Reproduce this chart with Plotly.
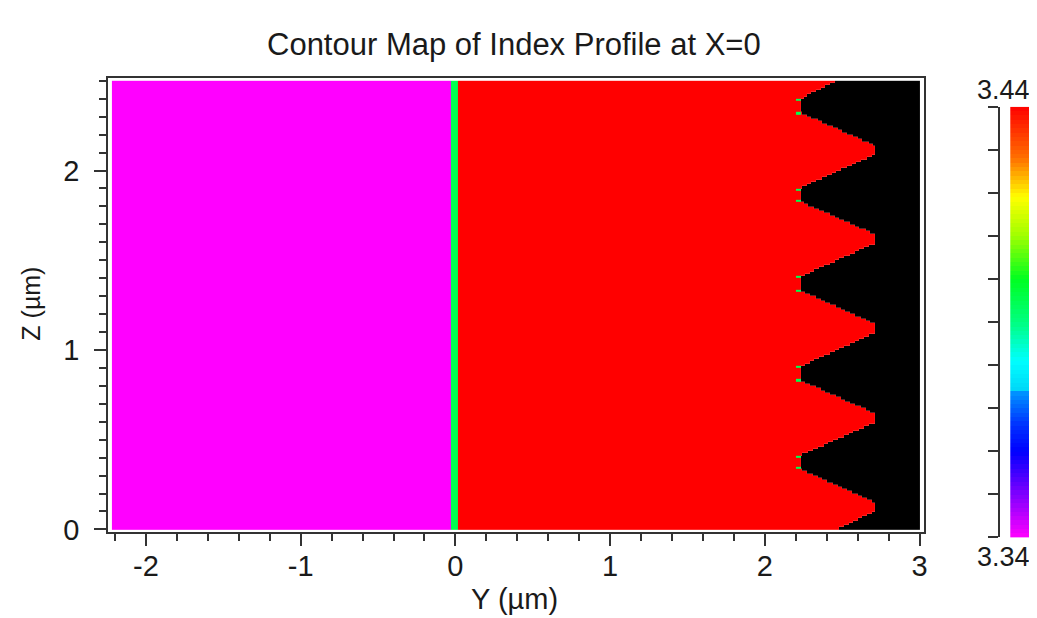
import numpy as np
import plotly.graph_objects as go

# ---------------- data ----------------
# horizontal layers (Y in µm) and their refractive index
layer_edges_y = [-2.22, -0.03, 0.015, 2.20]      # magenta | green interface | red core
layer_index = [3.34, 3.39, 3.44]
core_index = 3.44
interface_index = 3.395
air_index = 1.0

# grating teeth on the right side of the core (Z in µm)
peak_z = [0.125, 0.62, 1.12, 1.62, 2.115]
trough_z = [0.375, 0.87, 1.37, 1.865, 2.36]
peak_y = 2.71
trough_y = 2.22
peak_flat = 0.05
trough_flat = 0.07
edge_y = 2.46          # boundary at z = 0 and z = 2.5
y_end = 3.0
z_start, z_end = 0.0, 2.5
z_step = 0.0125
tooth_col_step = 0.01

x_tick_vals = [-2, -1, 0, 1, 2, 3]
x_tick_text = ["-2", "-1", "0", "1", "2", "3"]
y_tick_vals = [0, 1, 2]
y_tick_text = ["0", "1", "2"]

cbar_min, cbar_max = 3.34, 3.44
cbar_ticks = [3.34, 3.35, 3.36, 3.37, 3.38, 3.39, 3.40, 3.41, 3.42, 3.43, 3.44]

colorscale = [
    [0.00, "#ff00ff"], [0.10, "#8000ff"], [0.20, "#0000ff"], [0.26, "#0030ff"],
    [0.335, "#0090ff"], [0.345, "#00d8f8"], [0.41, "#00ffff"], [0.50, "#00ff80"],
    [0.60, "#00ff20"], [0.70, "#a0ff00"], [0.79, "#ffff00"], [0.88, "#ff7000"],
    [1.00, "#ff0000"],
]

# ---------------- build grid ----------------
vz, vy = [z_start], [edge_y]
for pz, tz in zip(peak_z, trough_z):
    vz += [pz - peak_flat / 2, pz + peak_flat / 2, tz - trough_flat / 2, tz + trough_flat / 2]
    vy += [peak_y, peak_y, trough_y, trough_y]
vz.append(z_end)
vy.append(edge_y)

z_edges = np.arange(z_start, z_end + z_step / 2, z_step)
z_cent = (z_edges[:-1] + z_edges[1:]) / 2
tooth_edges = np.round(np.arange(trough_y, peak_y + 0.011, tooth_col_step), 4)
x_edges = np.array(list(layer_edges_y) + list(tooth_edges[1:]) + [y_end])
x_cent = (x_edges[:-1] + x_edges[1:]) / 2

boundary = np.interp(z_cent, vz, vy)
n_rows, n_cols = len(z_cent), len(x_cent)
index = np.full((n_rows, n_cols), np.nan)
air = np.full((n_rows, n_cols), np.nan)
for j, xc in enumerate(x_cent):
    if xc < layer_edges_y[1]:
        index[:, j] = layer_index[0]
    elif xc < layer_edges_y[2]:
        index[:, j] = interface_index
    elif xc < layer_edges_y[3]:
        index[:, j] = layer_index[2]
    else:
        inside = xc < boundary
        index[inside, j] = core_index
        air[~inside, j] = air_index

# green dots at the trough corners
for tz in trough_z:
    for zc in (tz - trough_flat / 2, tz + trough_flat / 2):
        i = int(np.argmin(np.abs(z_cent - zc)))
        j = int(np.searchsorted(x_edges, trough_y + 0.005)) - 1
        index[i, j] = interface_index

# ---------------- figure ----------------
# page placement: the figure sits 8 px into the page and is shown slightly
# compressed; target positions below are page pixels
OFF_X, OFF_Y, SX, SY = 8.0, 8.2, 0.994, 0.978
W, H = 1037, 618

def px_x(p):
    return ((p - OFF_X) / SX) / W

def px_y(p):
    return 1 - ((p - OFF_Y) / SY) / H

fig = go.Figure()
fig.add_trace(go.Heatmap(
    x=x_edges, y=z_edges, z=air, colorscale=[[0, "#000000"], [1, "#000000"]],
    showscale=False, hoverinfo="skip", xaxis="x", yaxis="y"))
fig.add_trace(go.Heatmap(
    x=x_edges, y=z_edges, z=index, colorscale=colorscale, zmin=cbar_min, zmax=cbar_max,
    showscale=False, xaxis="x", yaxis="y"))

# colour bar drawn as its own small axis
cb_edges = np.linspace(cbar_min, cbar_max, 101)
cb_vals = ((cb_edges[:-1] + cb_edges[1:]) / 2).reshape(-1, 1)
fig.add_trace(go.Heatmap(
    x=[0, 1], y=cb_edges, z=cb_vals, colorscale=colorscale, zmin=cbar_min, zmax=cbar_max,
    showscale=False, hoverinfo="skip", xaxis="x2", yaxis="y2"))

font = "Liberation Sans, Arial, sans-serif"
ink = "#1a1a1a"
frame = "#333333"

fig.update_layout(
    width=W, height=H, margin=dict(l=0, r=0, t=0, b=0),
    paper_bgcolor="white", plot_bgcolor="white", showlegend=False,
    font=dict(family=font, color=ink, size=28),
    xaxis=dict(
        domain=[px_x(108), px_x(922)], range=[-2.244, 3.028], anchor="y",
        tickmode="array", tickvals=x_tick_vals, ticktext=x_tick_text,
        ticks="outside", ticklen=12, tickwidth=2,
        tickcolor=frame, showline=True, linecolor=frame, linewidth=2, mirror=True,
        showgrid=False, zeroline=False, ticklabelstandoff=-5,
        tickfont=dict(size=29, color=ink),
        minor=dict(ticks="outside", dtick=0.2, tick0=0, ticklen=7, tickwidth=1.5,
                   tickcolor=frame, showgrid=False),
    ),
    yaxis=dict(
        domain=[px_y(532.3), px_y(78)], range=[-0.013, 2.517], anchor="x",
        tickmode="array", tickvals=y_tick_vals, ticktext=y_tick_text,
        ticks="outside", ticklen=12, tickwidth=2,
        tickcolor=frame, showline=True, linecolor=frame, linewidth=2, mirror=True,
        showgrid=False, zeroline=False, ticklabelstandoff=9,
        tickfont=dict(size=29, color=ink),
        minor=dict(ticks="outside", dtick=0.1, tick0=0, ticklen=7, tickwidth=1.5,
                   tickcolor=frame, showgrid=False),
    ),
    xaxis2=dict(domain=[px_x(1008), 1.0], range=[0, 1], anchor="y2",
                showticklabels=False, ticks="", showline=False, showgrid=False,
                zeroline=False, fixedrange=True),
    yaxis2=dict(domain=[px_y(538), px_y(107)], range=[cbar_min, cbar_max],
                anchor="free", position=px_x(997), side="left",
                tickmode="array", tickvals=cbar_ticks, ticks="outside", ticklen=10,
                tickwidth=2, tickcolor=frame, showline=True, linecolor=frame,
                linewidth=2, showticklabels=False, showgrid=False, zeroline=False),
    annotations=[
        dict(text="Contour Map of Index Profile at X=0", x=px_x(513), y=px_y(45),
             xref="paper", yref="paper", xanchor="center", yanchor="middle",
             showarrow=False, font=dict(size=31, color=ink)),
        dict(text="Y (µm)", x=px_x(513), y=px_y(600), xref="paper", yref="paper",
             xanchor="center", yanchor="middle", showarrow=False,
             font=dict(size=29, color=ink)),
        dict(text="Z (µm)", x=px_x(31), y=px_y(304), xref="paper", yref="paper",
             xanchor="center", yanchor="middle", showarrow=False, textangle=-90,
             font=dict(size=25, color=ink)),
        dict(text=f"{cbar_max:.2f}", x=px_x(1001), y=px_y(90), xref="paper", yref="paper",
             xanchor="center", yanchor="middle", showarrow=False,
             font=dict(size=27, color=ink)),
        dict(text=f"{cbar_min:.2f}", x=px_x(1001), y=px_y(558), xref="paper", yref="paper",
             xanchor="center", yanchor="middle", showarrow=False,
             font=dict(size=27, color=ink)),
    ],
)

fig.write_html("out.html")
